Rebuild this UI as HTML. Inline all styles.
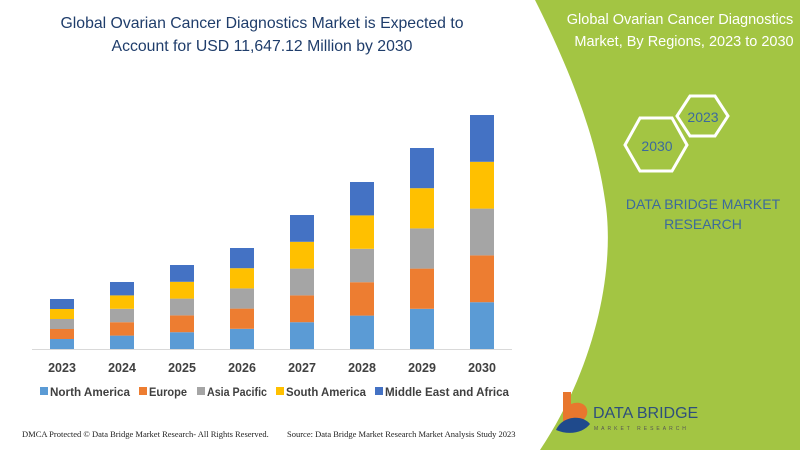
<!DOCTYPE html>
<html><head><style>
body{margin:0;width:800px;height:450px;overflow:hidden;background:#fff;position:relative;font-family:"Liberation Sans",sans-serif}
</style></head><body>
<svg width="800" height="450" style="position:absolute;left:0;top:0">
<path d="M535,0 L800,0 L800,450 L540,450 C600,360 615,260 605,200 C595,130 565,60 535,0 Z" fill="#a3c543"/>
<text x="262" y="28" text-anchor="middle" font-size="15.8" fill="#1f3d6b">Global Ovarian Cancer Diagnostics Market is Expected to</text>
<text x="262" y="51" text-anchor="middle" font-size="15.8" fill="#1f3d6b">Account for USD 11,647.12 Million by 2030</text>
<text x="680" y="24" text-anchor="middle" font-size="14.5" fill="#fff">Global Ovarian Cancer Diagnostics</text>
<text x="684" y="46" text-anchor="middle" font-size="14.5" fill="#fff">Market, By Regions, 2023 to 2030</text>
<polygon points="677,116 690,96 715,96 728,116 715,136 690,136" fill="none" stroke="#fff" stroke-width="3"/>
<text x="703" y="122" text-anchor="middle" font-size="14" fill="#3c6a9c">2023</text>
<polygon points="625,145 640,118 672,118 687,145 672,171 640,171" fill="none" stroke="#fff" stroke-width="3"/>
<text x="657" y="151" text-anchor="middle" font-size="14" fill="#3c6a9c">2030</text>
<text x="703" y="209" text-anchor="middle" font-size="14" fill="#3c6a9c">DATA BRIDGE MARKET</text>
<text x="703" y="229" text-anchor="middle" font-size="14" fill="#3c6a9c">RESEARCH</text>
<path d="M563,392 h8 v12 c10,-4 18,2 16,10 c-2,8 -12,10 -24,8 z" fill="#e8772e"/>
<path d="M556,430 c6,-14 26,-16 34,-6 c-6,8 -20,12 -34,6 z" fill="#1f4a8c"/>
<text x="593" y="418" font-size="16" fill="#2e4f7c">DATA BRIDGE</text>
<text x="594" y="430" font-size="5" fill="#555" letter-spacing="3">MARKET RESEARCH</text>
<line x1="32" y1="349.5" x2="512" y2="349.5" stroke="#d9d9d9"/>
<g id="bars"></g>
<g font-size="12.5" font-weight="bold" fill="#404040" text-anchor="middle">
<text x="62" y="372">2023</text><text x="122" y="372">2024</text><text x="182" y="372">2025</text><text x="242" y="372">2026</text><text x="302" y="372">2027</text><text x="362" y="372">2028</text><text x="422" y="372">2029</text><text x="482" y="372">2030</text>
</g>
<g font-size="12" font-weight="bold" fill="#404040">
<rect x="40" y="387" width="8" height="8" fill="#5b9bd5"/><text x="50" y="396" textLength="80" lengthAdjust="spacingAndGlyphs">North America</text>
<rect x="139" y="387" width="8" height="8" fill="#ed7d31"/><text x="149" y="396" textLength="38" lengthAdjust="spacingAndGlyphs">Europe</text>
<rect x="197" y="387" width="8" height="8" fill="#a5a5a5"/><text x="207" y="396" textLength="60" lengthAdjust="spacingAndGlyphs">Asia Pacific</text>
<rect x="276" y="387" width="8" height="8" fill="#ffc000"/><text x="286" y="396" textLength="80" lengthAdjust="spacingAndGlyphs">South America</text>
<rect x="375" y="387" width="8" height="8" fill="#4472c4"/><text x="385" y="396" textLength="124" lengthAdjust="spacingAndGlyphs">Middle East and Africa</text>
</g>
<text x="22" y="437" font-family="Liberation Serif" font-size="8.5" fill="#222">DMCA Protected © Data Bridge Market Research- All Rights Reserved.</text>
<text x="287" y="437" font-family="Liberation Serif" font-size="8.5" fill="#222">Source: Data Bridge Market Research Market Analysis Study 2023</text>
</svg>
<script>
var tops=[299,282,265,248,215,182,148,115],cols=["#5b9bd5","#ed7d31","#a5a5a5","#ffc000","#4472c4"],g=document.getElementById("bars"),s="";
tops.forEach(function(t,i){var h=(349-t)/5,cx=62+60*i;for(var k=0;k<5;k++){var y=349-h*(k+1);s+='<rect x="'+(cx-12)+'" y="'+y+'" width="24" height="'+h+'" fill="'+cols[k]+'"/>';}});
g.innerHTML=s;
</script>
</body></html>
